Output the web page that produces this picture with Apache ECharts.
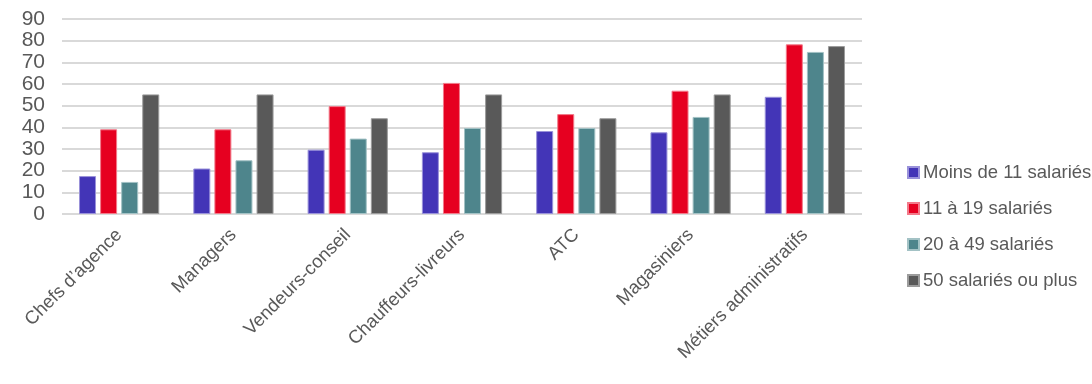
<!DOCTYPE html>
<html>
<head>
<meta charset="utf-8">
<script src="https://cdn.jsdelivr.net/npm/echarts@6/dist/echarts.min.js"></script>
<style>
html, body { margin: 0; padding: 0; background: #fff; }
#chart { width: 1092px; height: 384px; }
</style>
</head>
<body>
<div id="chart"></div>
<script>
// Job categories along the x axis
const categories = ['Chefs d\u2019agence', 'Managers', 'Vendeurs-conseil', 'Chauffeurs-livreurs', 'ATC', 'Magasiniers', 'Métiers administratifs'];

// Series names (company size)
const seriesNames = ['Moins de 11 salariés', '11 à 19 salariés', '20 à 49 salariés', '50 salariés ou plus'];

// Values per company size, one per job category
const moins11 = [17.5, 21, 29.7, 28.5, 38.3, 37.7, 54.1];
const de11a19 = [39.1, 39.1, 49.8, 60.5, 46.1, 56.9, 78.3];
const de20a49 = [14.8, 24.8, 34.8, 39.7, 39.7, 44.8, 74.8];
const plus50 = [55.2, 55.2, 44.2, 55.2, 44.2, 55.2, 77.5];

const colors = ['#4335B7', '#E60020', '#4E858C', '#595959'];
const borders = ['#9A92DA', '#F27A8A', '#A3C2C5', '#9C9C9C'];

const valueSets = [moins11, de11a19, de20a49, plus50];

const chart = echarts.init(document.getElementById('chart'));
chart.setOption({
  animation: false,
  textStyle: { fontFamily: 'Liberation Sans, Arial, sans-serif' },
  grid: { left: 62, right: 230, top: 19, bottom: 170, containLabel: false },
  legend: {
    orient: 'vertical',
    left: 902,
    top: 158,
    itemWidth: 11,
    itemHeight: 11,
    itemGap: 17,
    icon: 'rect',
    textStyle: { fontSize: 18.5, color: '#595959', padding: [0, 0, 0, -1] },
    data: seriesNames
  },
  xAxis: {
    type: 'category',
    data: categories,
    axisLine: { show: false },
    axisTick: { show: false },
    axisLabel: {
      rotate: 45,
      interval: 0,
      margin: 18,
      fontSize: 18.5,
      color: '#595959'
    }
  },
  yAxis: {
    type: 'value',
    min: 0,
    max: 90,
    interval: 10,
    axisLine: { show: false },
    axisTick: { show: false },
    axisLabel: { fontSize: 21, color: '#595959', margin: 17 },
    splitLine: { lineStyle: { color: '#D9D9D9', width: 2 } }
  },
  series: seriesNames.map((name, i) => ({
    name: name,
    type: 'bar',
    data: valueSets[i],
    barWidth: 17,
    barGap: '24%',
    itemStyle: { color: colors[i], borderColor: borders[i], borderWidth: 1 }
  }))
});
</script>
</body>
</html>
